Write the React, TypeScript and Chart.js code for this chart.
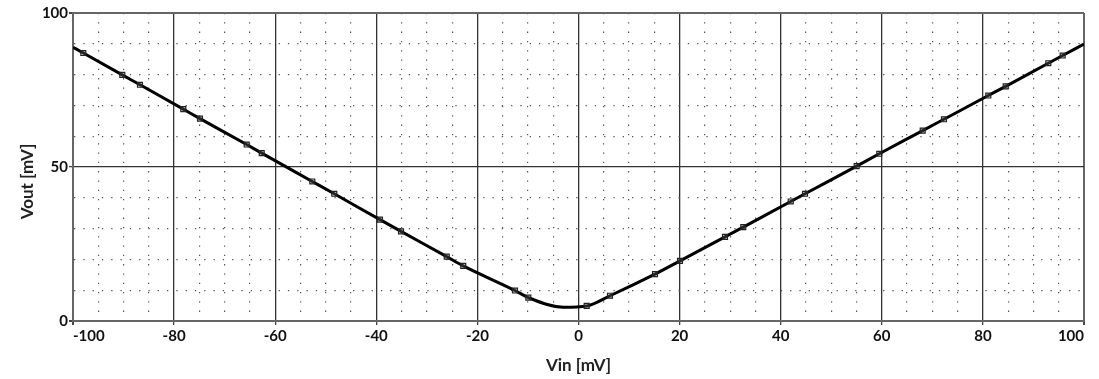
import React, { useEffect, useRef } from "react";
import { Chart, registerables } from "chart.js";

Chart.register(...registerables);

// Data
const vin: number[] = [-100, -97.96, -90.25, -86.75, -78.18, -74.88, -65.64, -62.67, -52.66, -48.31, -39.27, -35.11, -26.07, -22.8, -12.56, -9.93, -3, 1.62, 6.23, 15.13, 20.08, 28.98, 32.6, 41.98, 44.81, 55.03, 59.5, 68.09, 72.3, 81.07, 84.51, 92.94, 95.78, 100];
const vout: number[] = [88.9, 87.0, 79.9, 76.7, 68.8, 65.7, 57.3, 54.5, 45.3, 41.3, 32.9, 29.1, 20.9, 17.9, 9.9, 7.6, 4.5, 4.9, 8.2, 15.2, 19.5, 27.3, 30.5, 38.8, 41.3, 50.3, 54.3, 61.8, 65.5, 73.2, 76.2, 83.7, 86.2, 89.9];
const marked: boolean[] = [false, true, true, true, true, true, true, true, true, true, true, true, true, true, true, true, false, true, true, true, true, true, true, true, true, true, true, true, true, true, true, true, true, false];

const xMajorStep = 20;
const xMinorStep = 5;
const yMajorStep = 50;
const yMinorStep = 10;
const xTitle = "Vin [mV]";
const yTitle = "Vout [mV]";

export default function App() {
  const ref = useRef<HTMLCanvasElement | null>(null);
  useEffect(() => {
    if (!ref.current) return;
    const tickFont = { family: "Lato", size: 15, weight: "bold" as const };
    const titleFont = { family: "Lato", size: 17, weight: "bold" as const };
    const chart = new Chart(ref.current, {
      type: "scatter",
      data: {
        datasets: [
          {
            data: vin.map((x, i) => ({ x, y: vout[i] })),
            showLine: true,
            borderColor: "#000",
            borderWidth: 3,
            cubicInterpolationMode: "monotone",
            pointStyle: "rect",
            pointRadius: marked.map((m) => (m ? 3.5 : 0)),
            pointBorderColor: "#222",
            pointBorderWidth: 1.2,
            pointBackgroundColor: "rgba(120,120,120,0.3)",
          } as any,
        ],
      },
      options: {
        animation: false,
        responsive: false,
        layout: { padding: { left: 0, right: 15, top: 13, bottom: 0 } },
        plugins: { legend: { display: false }, tooltip: { enabled: false } },
        scales: {
          x: {
            type: "linear",
            min: -100,
            max: 100,
            afterFit: (s: any) => {
              s.height = 58;
            },
            ticks: {
              stepSize: xMinorStep,
              autoSkip: false,
              maxRotation: 0,
              align: "inner",
              padding: 2,
              color: "#111",
              font: tickFont,
              callback: (v: any) => (Number(v) % xMajorStep === 0 ? String(v) : ""),
            },
            grid: {
              color: (c: any) => {
                const v = c.tick?.value;
                if (v === -100 || v === 100) return "#666";
                return v % xMajorStep === 0 ? "#333" : "#555";
              },
              lineWidth: (c: any) => {
                const v = c.tick?.value;
                if (v === -100 || v === 100) return 2;
                return v % xMajorStep === 0 ? 1.3 : 1.2;
              },
              drawTicks: true,
              tickLength: 4,
              tickColor: (c: any) => (c.tick?.value % xMajorStep === 0 ? "#444" : "rgba(0,0,0,0)"),
            },
            border: {
              display: true,
              color: "#666",
              width: 2,
              dash: (c: any) => (c.tick && c.tick.value % xMajorStep !== 0 ? [1.3, 8] : []),
            },
            title: {
              display: true,
              text: xTitle,
              color: "#222",
              font: titleFont,
              padding: { top: 0, bottom: 3 },
            },
          },
          y: {
            type: "linear",
            min: 0,
            max: 100,
            afterFit: (s: any) => {
              s.width = 73;
            },
            ticks: {
              stepSize: yMinorStep,
              autoSkip: false,
              padding: 1,
              color: "#111",
              font: tickFont,
              callback: (v: any) => (Number(v) % yMajorStep === 0 ? String(v) : ""),
            },
            grid: {
              color: (c: any) => {
                const v = c.tick?.value;
                if (v === 0 || v === 100) return "#666";
                return v % yMajorStep === 0 ? "#333" : "#555";
              },
              lineWidth: (c: any) => {
                const v = c.tick?.value;
                if (v === 0 || v === 100) return 2;
                return v % yMajorStep === 0 ? 1.3 : 1.2;
              },
              drawTicks: true,
              tickLength: 4,
              tickColor: (c: any) => (c.tick?.value % yMajorStep === 0 ? "#444" : "rgba(0,0,0,0)"),
            },
            border: {
              display: true,
              color: "#666",
              width: 2,
              dash: (c: any) => (c.tick && c.tick.value % yMajorStep !== 0 ? [1.3, 8] : []),
            },
            title: {
              display: true,
              text: yTitle + "       ",
              color: "#222",
              font: titleFont,
              padding: { top: 17, bottom: 0 },
            },
          },
        },
      },
    });
    return () => chart.destroy();
  }, []);
  return (
    <div style={{ position: "fixed", left: 0, top: 0, width: 1099, height: 379, background: "#fff" }}>
      <canvas ref={ref} width={1099} height={379} style={{ display: "block" }} />
    </div>
  );
}
